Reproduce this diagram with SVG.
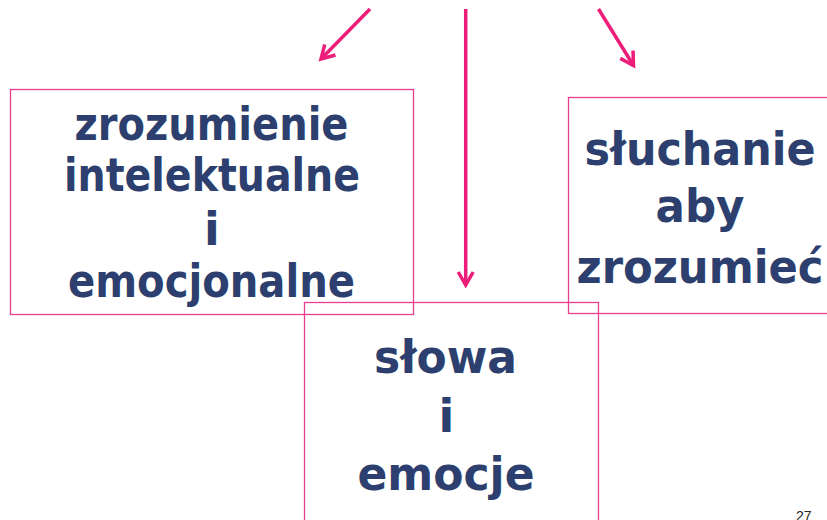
<svg xmlns="http://www.w3.org/2000/svg" width="827" height="520" viewBox="0 0 827 520">
  <style>
    .box { fill: none; stroke: #e8408f; stroke-width: 1.3; }
    .lbl { font-family: "DejaVu Sans", Verdana, sans-serif; font-weight: bold; font-size: 46px; fill: #2c3f6e; text-anchor: middle; }
    .conn { stroke: #ec1e79; stroke-width: 3.5; fill: none; }
    .pg { font-family: "Liberation Sans", Arial, sans-serif; font-size: 14px; fill: #222; }
  </style>
  <defs>
    <marker id="arr" markerUnits="userSpaceOnUse" viewBox="-16 -10 20 20" refX="0" refY="0" markerWidth="20" markerHeight="20" orient="auto">
      <path d="M -13,-7.5 L 0,0 L -13,7.5" fill="none" stroke="#ec1e79" stroke-width="3.5" stroke-linejoin="miter" stroke-linecap="butt"/>
    </marker>
  </defs>
  <rect width="827" height="520" fill="#ffffff"/>

  <g id="connectors">
    <line class="conn" x1="370" y1="9" x2="321" y2="59" marker-end="url(#arr)"/>
    <line class="conn" x1="465.7" y1="9" x2="465.7" y2="285" marker-end="url(#arr)"/>
    <line class="conn" x1="598.5" y1="9" x2="633.5" y2="65.5" marker-end="url(#arr)"/>
  </g>

  <g id="node-zrozumienie">
    <rect class="box" x="10.5" y="89.5" width="403" height="225"/>
    <text class="lbl" x="211.5" y="140" textLength="274" lengthAdjust="spacingAndGlyphs">zrozumienie</text>
    <text class="lbl" x="212" y="191" textLength="296" lengthAdjust="spacingAndGlyphs">intelektualne</text>
    <text class="lbl" x="212" y="245">i</text>
    <text class="lbl" x="211.5" y="297" textLength="287" lengthAdjust="spacingAndGlyphs">emocjonalne</text>
  </g>

  <g id="node-sluchanie">
    <rect class="box" x="568.5" y="97.5" width="275" height="216"/>
    <text class="lbl" x="700" y="165" textLength="231" lengthAdjust="spacingAndGlyphs">słuchanie</text>
    <text class="lbl" x="700" y="222" textLength="89" lengthAdjust="spacingAndGlyphs">aby</text>
    <text class="lbl" x="700" y="283" textLength="247" lengthAdjust="spacingAndGlyphs">zrozumieć</text>
  </g>

  <g id="node-slowa">
    <rect class="box" x="304.5" y="302.5" width="294" height="240"/>
    <text class="lbl" x="445.5" y="373" textLength="143" lengthAdjust="spacingAndGlyphs">słowa</text>
    <text class="lbl" x="446.5" y="432">i</text>
    <text class="lbl" x="446" y="490" textLength="177" lengthAdjust="spacingAndGlyphs">emocje</text>
  </g>

  <text class="pg" x="796" y="521">27</text>
</svg>
